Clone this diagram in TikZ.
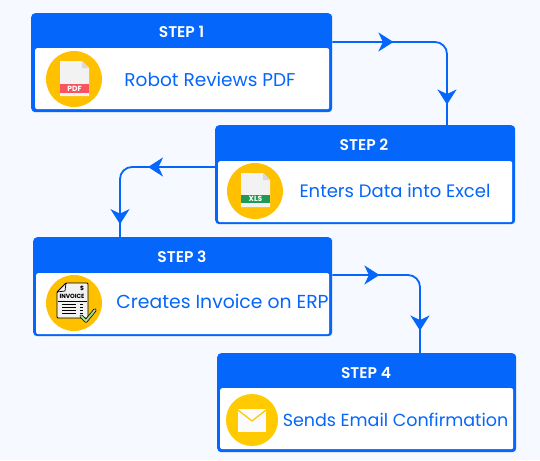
\documentclass[tikz,border=0pt]{standalone}
\usepackage{xcolor}
\usepackage{fontspec}
\setmainfont{Poppins}
\newfontfamily\titlefont{Poppins SemiBold}
\usepackage{tikz}
\usetikzlibrary{arrows.meta,decorations.markings}
\definecolor{stepblue}{HTML}{0466FB}
\definecolor{pagebg}{HTML}{F6F9FF}
\definecolor{iconyellow}{HTML}{FFC000}
\definecolor{mailyellow}{HTML}{FFCB00}
\definecolor{paper}{HTML}{F2F2F2}
\definecolor{xlsgreen}{HTML}{1E9A55}
\definecolor{pdfred}{HTML}{F9545E}
\definecolor{tickgreen}{HTML}{A9DD8F}
\tikzset{
  stepbox/.style={fill=stepblue, rounded corners=4pt, minimum width=#1, minimum height=99pt, inner sep=0pt, anchor=north west},
  stepbody/.style={fill=white, rounded corners=2pt, minimum width=#1, minimum height=61pt, inner sep=0pt, anchor=north west},
  steptitle/.style={text=white, font=\fontsize{15.5}{17}\titlefont},
  steptext/.style={text=stepblue, inner sep=0pt, font=\fontsize{#1}{20}\selectfont},
  iconcircle/.style={fill=#1, circle, inner sep=0pt, minimum size=56pt},
  flow/.style n args={2}{draw=stepblue, line width=1.8pt, rounded corners=12pt,
    postaction={decorate, decoration={markings,
      mark=at position #1 with {\arrow[stepblue]{Stealth[length=15pt,width=19pt,inset=4.5pt]}},
      mark=at position #2 with {\arrow[stepblue]{Stealth[length=15pt,width=19pt,inset=4.5pt]}}}}},
  doc/.style={fill=paper},
  tag/.style={text=white, inner sep=0pt, font=\fontsize{#1}{9}\selectfont\bfseries}
}
\begin{document}
\begin{tikzpicture}[x=1pt,y=-1pt]
  \useasboundingbox (0,0) rectangle (540,460);
  % Page
  \fill[pagebg] (0,0) rectangle (540,460);

  % Step 1
  \node[stepbox=301pt] (step1) at (31,13) {};
  \node[stepbody=294pt] (body1) at (35,48) {};
  \node[steptitle] (head1) at (181.5,32) {STEP 1};
  \node[iconcircle=iconyellow] (icon1) at (74,79) {};
  \node[steptext=18.5] (text1) at (210,80) {Robot Reviews PDF};
  % PDF file
  \fill[doc] (60,61) -- (82,61) -- (89,68) -- (89,96) -- (60,96) -- cycle;
  \fill[white!85!black] (82,61) -- (89,68) -- (82,68) -- cycle;
  \fill[pdfred] (60,84) rectangle (89,93);
  \node[tag=7.5] (pdf1) at (74.5,88.5) {PDF};

  % Step 2
  \node[stepbox=300pt] (step2) at (215,125) {};
  \node[stepbody=294pt] (body2) at (218,161) {};
  \node[steptitle] (head2) at (364,145) {STEP 2};
  \node[iconcircle=iconyellow] (icon2) at (255,191) {};
  \node[steptext=18] (text2) at (395,191) {Enters Data into Excel};
  % XLS file
  \fill[doc] (241,173) -- (263,173) -- (270,180) -- (270,207) -- (241,207) -- cycle;
  \fill[white!85!black] (263,173) -- (270,180) -- (263,180) -- cycle;
  \fill[xlsgreen] (241,195) rectangle (270,203);
  \node[tag=7.5] (xls2) at (255.5,199) {XLS};

  % Step 3
  \node[stepbox=299pt] (step3) at (33,237) {};
  \node[stepbody=293pt] (body3) at (36,273) {};
  \node[steptitle] (head3) at (182,257) {STEP 3};
  \node[iconcircle=iconyellow] (icon3) at (74,303) {};
  \node[steptext=18.8] (text3) at (222.5,301) {Creates Invoice on ERP};
  % Invoice sheet
  \draw[black, fill=paper, line width=0.9pt, rounded corners=1pt] (66,283) -- (88,283) -- (88,318) -- (57,318) -- (57,292) -- cycle;
  \draw[black, line width=0.7pt] (57,292) -- (65,291) -- (66,283);
  \node[text=black, inner sep=0pt, font=\fontsize{6}{6}\selectfont\bfseries] (dollar3) at (82,288) {\$};
  \node[text=black, inner sep=0pt, font=\fontsize{6}{6}\selectfont\bfseries] (inv3) at (72,296.5) {INVOICE};
  \draw[black, line width=0.7pt] (58,301) -- (87,301);
  \foreach \yy in {304,307,310,313}
    \draw[black, line width=0.9pt] (62,\yy) -- (76,\yy) (80,\yy) -- (83,\yy);
  \draw[black, line width=3.4pt, line cap=round, line join=round] (81,316) -- (86,321) -- (95,310);
  \draw[tickgreen, line width=1.9pt, line cap=round, line join=round] (81,316) -- (86,321) -- (95,310);

  % Step 4
  \node[stepbox=299pt] (step4) at (217,353) {};
  \node[stepbody=293pt] (body4) at (220,388) {};
  \node[steptitle] (head4) at (366,373) {STEP 4};
  \node[iconcircle=mailyellow, minimum size=52pt] (icon4) at (252,420) {};
  \node[steptext=17.5] (text4) at (395.5,420) {Sends Email Confirmation};
  % Envelope
  \fill[paper!30!white] (238,409) rectangle (266,432);
  \draw[mailyellow, line width=1.3pt] (238,410) -- (252,421) -- (266,410);

  % Connectors
  \coordinate (out1) at (step1.east |- 0,42);
  \coordinate (in2) at (step2.north -| 447,0);
  \path[flow={61pt}{172pt}] (out1) -| (in2);
  \coordinate (out2) at (step2.west |- 0,167);
  \coordinate (in3) at (step3.north -| 120,0);
  \path[flow={67pt}{147pt}] (out2) -| (in3);
  \coordinate (out3) at (step3.east |- 0,275);
  \coordinate (in4) at (step4.north -| 420,0);
  \path[flow={47pt}{138pt}] (out3) -| (in4);
\end{tikzpicture}
\end{document}
